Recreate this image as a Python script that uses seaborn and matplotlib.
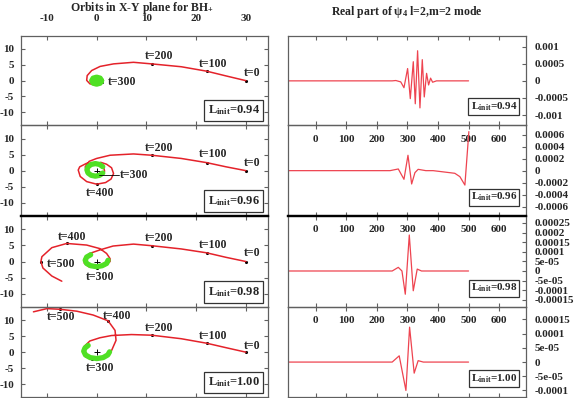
import matplotlib
matplotlib.use('Agg')
import matplotlib.pyplot as plt
import seaborn as sns

# ---------------------------------------------------------------------------
# data
# ---------------------------------------------------------------------------
L_INIT = ['0.94', '0.96', '0.98', '1.00']

# red track of BH+ in the x-y plane
red094_x = [30, 26, 22.1, 17, 11.05, 7.4, 3.4, 0.7, -1.0, -1.9, -2.0, -1.35, -0.35, 0.6, 1.0]
red094_y = [0, 1.5, 3.0, 4.4, 5.3, 5.8, 5.3, 4.5, 3.2, 1.6, 0.1, -1.0, -1.3, -0.9, -0.3]
red096_x = [30, 26, 22.1, 17, 11.05, 7.4, 2.7, 0, -1.5, -2.3, -2.0, -0.8, 0.5, 1.6, 1.4, 0.3,
            -2.0, -3.4, -3.7, -3.3, -2.0, 0, 1.8, 2.9, 3.4, 3.0, 2.0, 0.8]
red096_y = [0, 1.2, 2.5, 3.8, 4.8, 5.2, 4.8, 3.8, 2.9, 1.2, -0.8, -1.6, -1.3, -0.2, 1.2, 2.0,
            2.3, 1.2, 0.2, -1.8, -3.4, -4.2, -3.7, -2.6, -0.9, 0.9, 2.0, 2.6]
red098_x = [30, 26, 22.1, 17, 11.05, 7.4, 3.3, 0.66, -1.4, -2.4, -2.5, -1.6, 0, 1.8, 2.7, 2.7,
            2.0, 0.66, -2.0, -6.0, -9.0, -11.0, -11.2, -10.8, -9.0, -7.0]
red098_y = [0, 1.3, 2.7, 3.9, 4.9, 5.4, 4.8, 3.6, 2.5, 1.0, -0.5, -1.6, -1.9, -1.2, 0, 0.9,
            2.5, 4.0, 5.1, 5.6, 4.3, 1.5, 0, -2.0, -4.5, -6.1]
red100_x = [30, 26, 22.1, 17, 11.05, 7.0, 3.0, 0.66, -1.35, -2.5, -2.7, -2.2, -1.0, 0.5, 2.0,
            3.0, 3.9, 3.7, 2.3, -0.7, -4.0, -7.4, -10.0, -12.7]
red100_y = [0, 1.4, 2.8, 4.2, 5.3, 5.5, 5.2, 4.5, 3.5, 1.8, 0, -1.5, -2.1, -2.1, -1.3,
            0.5, 3.7, 6.8, 9.8, 11.6, 12.8, 13.4, 13.6, 12.6]

# green part of the track (whirl around the centre)
grn094_x = [1.0, 0.7, 0, -0.7, -1.0, -0.7, 0, 0.7, 1.0, 0.4, -0.3, -0.4, 0.2]
grn094_y = [0, 0.8, 1.1, 0.8, 0, -0.8, -1.1, -0.8, 0, 0.5, 0.4, -0.3, -0.2]
grn096_x = [1.23, 0.6, -0.25, -1.1, -1.72, -1.95, -1.72, -1.1, -0.25, 0.6, 1.23]
grn096_y = [1.23, 1.94, 2.2, 1.94, 1.23, 0.25, -0.73, -1.44, -1.7, -1.44, -0.73]
grn098_x = [-1.2, -2.0, -2.3, -2.0, -1.2, 0, 1.1, 2.0, 2.3]
grn098_y = [2.1, 1.4, 0.4, -0.6, -1.3, -1.6, -1.3, -0.6, 0.4]
grn100_x = [-1.7, -2.35, -2.6, -2.25, -1.3, 0, 1.3, 2.25, 2.6]
grn100_y = [2.1, 1.3, 0.3, -0.85, -1.7, -2.0, -1.7, -0.85, 0.1]

# time markers on the track
t_tags = ['t=0', 't=100', 't=200', 't=300', 't=400', 't=500']
dot094_x = [30, 22.1, 11.05, 1.0]
dot094_y = [0, 3.0, 5.3, -0.3]
dot096_x = [30, 22.1, 11.05, 0.5, 0]
dot096_y = [0, 2.5, 4.8, -1.3, -4.2]
dot098_x = [30, 22.1, 11.05, 0, -6.0, -11.2]
dot098_y = [0, 2.7, 4.9, -1.9, 5.6, 0]
dot100_x = [30, 22.1, 11.05, -1.0, 2.3, -7.4]
dot100_y = [0, 2.8, 5.3, -2.1, 9.8, 13.4]

# Re(psi4) l=2, m=2
t094 = [-100, 250, 262, 278, 288.6, 300.5, 309.3, 319.1, 325.6, 333.2, 340.9, 348.5, 355,
        362.6, 369.2, 375.7, 382.3, 395, 500]
psi094 = [0, 0, 1e-5, -3e-5, -2.0e-4, 3.6e-4, -5.2e-4, 5.6e-4, -6.7e-4, 8.8e-4, -7.9e-4,
          6.2e-4, -4.7e-4, 2.2e-4, -1.2e-4, 8e-5, -4e-5, 0, 0]
t096 = [-100, 243, 270, 288.6, 301.7, 313.7, 324.5, 335, 360, 384, 455, 471.6, 488, 501]
psi096 = [0, 0, 2.8e-5, -1.44e-4, 2.56e-4, -2.22e-4, -3.3e-5, 2.2e-5, 0, 0, -4.4e-5,
          -1.0e-4, -2.4e-4, 6.5e-4]
t098 = [-100, 250, 270, 282, 292.9, 306, 319, 332, 346, 500]
psi098 = [0, 0, 1.9e-5, 0, -1.21e-4, 1.875e-4, -1.03e-4, 1e-5, 0, 0]
t100 = [-100, 250, 273, 295, 307, 322, 335, 352, 500]
psi100 = [0, 0, 2.2e-5, -1.0e-4, 1.23e-4, -3.9e-5, 5e-6, 0, 0]

# ticks
xt_orb = [-10, 0, 10, 20, 30]
yt_orb = [10, 5, 0, -5, -10]
xt_wave = [0, 100, 200, 300, 400, 500, 600]
yt094 = [0.001, 0.0005, 0, -0.0005, -0.001]
yl094 = ['0.001', '0.0005', '0', '-0.0005', '-0.001']
yt096 = [0.0006, 0.0004, 0.0002, 0, -0.0002, -0.0004, -0.0006]
yl096 = ['0.0006', '0.0004', '0.0002', '0', '-0.0002', '-0.0004', '-0.0006']
yt098 = [0.00025, 0.0002, 0.00015, 0.0001, 5e-05, 0, -5e-05, -0.0001, -0.00015]
yl098 = ['0.00025', '0.0002', '0.00015', '0.0001', '5e-05', '0', '-5e-05', '-0.0001', '-0.00015']
yt100 = [0.00015, 0.0001, 5e-05, 0, -5e-05, -0.0001]
yl100 = ['0.00015', '0.0001', '5e-05', '0', '-5e-05', '-0.0001']

# ---------------------------------------------------------------------------
sns.set_style('ticks')
plt.rcParams['font.family'] = ['Liberation Serif', 'DejaVu Serif']
plt.rcParams['font.weight'] = 'bold'
plt.rcParams['mathtext.fontset'] = 'custom'
plt.rcParams['mathtext.rm'] = 'Liberation Serif:bold'
plt.rcParams['mathtext.it'] = 'Liberation Serif:bold:italic'
plt.rcParams['mathtext.bf'] = 'Liberation Serif:bold'
plt.rcParams['axes.unicode_minus'] = False

RED = '#e4222a'
WAVE = '#ee4450'
GREEN = '#4fe024'
FRAME = '#606060'

reds = [(red094_x, red094_y), (red096_x, red096_y), (red098_x, red098_y), (red100_x, red100_y)]
greens = [(grn094_x, grn094_y), (grn096_x, grn096_y), (grn098_x, grn098_y), (grn100_x, grn100_y)]
dots = [(dot094_x, dot094_y), (dot096_x, dot096_y), (dot098_x, dot098_y), (dot100_x, dot100_y)]
waves = [(t094, psi094), (t096, psi096), (t098, psi098), (t100, psi100)]
yticks_w = [(yt094, yl094), (yt096, yl096), (yt098, yl098), (yt100, yl100)]
ylims_w = [(-0.00129, 0.00132), (-0.00075, 0.00076), (-0.000186, 0.000288), (-0.000123, 0.000195)]

# where each time tag is written (x, y, ha)
tag_pos = [
    [(31.3, 2.4, 'center'), (23.5, 5.4, 'center'), (12.6, 7.8, 'center'), (2.3, -0.3, 'left')],
    [(31.3, 2.4, 'center'), (23.5, 5.1, 'center'), (12.6, 7.1, 'center'), (4.7, -1.3, 'left'),
     (0.6, -7.0, 'center')],
    [(31.3, 2.6, 'center'), (23.5, 5.1, 'center'), (12.6, 7.2, 'center'), (0.6, -4.9, 'center'),
     (-4.9, 7.7, 'center'), (-10.1, -0.9, 'left')],
    [(31.3, 2.0, 'center'), (23.5, 5.0, 'center'), (12.6, 7.5, 'center'), (0.6, -4.9, 'center'),
     (4.1, 11.3, 'center'), (-7.2, 10.9, 'center')],
]

fig = plt.figure(figsize=(5.76, 3.98), dpi=100)
W, H = 576.0, 398.0
edges = [35.7, 125, 215.7, 306.7, 397]

for i in range(4):
    y_top = 1 - edges[i] / H
    y_bot = 1 - edges[i + 1] / H
    axL = fig.add_axes([21 / W, y_bot, 247.3 / W, y_top - y_bot], facecolor='none')
    axR = fig.add_axes([288.3 / W, y_bot, 237.7 / W, y_top - y_bot], facecolor='none')

    # ---- orbit panel ----
    rx, ry = reds[i]
    sns.lineplot(x=rx, y=ry, sort=False, estimator=None, color=RED, lw=1.1, ax=axL)
    gx, gy = greens[i]
    sns.lineplot(x=gx, y=gy, sort=False, estimator=None, color=GREEN, lw=3.8, ax=axL,
                 solid_capstyle='round', solid_joinstyle='round')
    sns.scatterplot(x=[0], y=[0], marker='+', color='k', s=22, linewidth=0.7, ax=axL)
    dx, dy = dots[i]
    sns.scatterplot(x=dx, y=dy, color='k', s=5, linewidth=0, ax=axL)
    for k, (tx, ty, ha) in enumerate(tag_pos[i]):
        axL.text(tx, ty, t_tags[k], ha=ha, va='center', fontsize=8.5)
    if i == 1:
        axL.plot([dx[3], 4.5], [dy[3], dy[3]], color='k', lw=0.6)
    axL.set_xlim(-15.2, 34.5)
    axL.set_ylim(-14, 14.2)
    axL.set_xticks(xt_orb)
    axL.set_xticklabels([str(v) for v in xt_orb])
    axL.set_yticks(yt_orb)
    axL.set_yticklabels([str(v) for v in yt_orb])
    axL.tick_params(axis='x', top=True, bottom=True, direction='in', length=3,
                    labeltop=(i == 0), labelbottom=False, pad=9, labelsize=8, color=FRAME)
    axL.tick_params(axis='y', left=True, right=True, direction='in', length=3,
                    pad=5, labelsize=8, color=FRAME)
    axL.text(0.965, 0.085, r'L$_{\mathrm{init}}$=' + L_INIT[i], transform=axL.transAxes,
             ha='right', va='bottom', fontsize=9,
             bbox=dict(boxstyle='square,pad=0.3', fc='white', ec='#333333', lw=0.9))

    # ---- waveform panel ----
    tw, pw = waves[i]
    sns.lineplot(x=tw, y=pw, sort=False, estimator=None, color=WAVE, lw=0.9, ax=axR)
    axR.set_xlim(-90, 688)
    axR.set_ylim(*ylims_w[i])
    axR.set_xticks(xt_wave)
    axR.set_xticklabels([str(v) for v in xt_wave])
    yt, yl = yticks_w[i]
    axR.yaxis.tick_right()
    axR.set_yticks(yt)
    axR.set_yticklabels(yl)
    axR.tick_params(axis='x', top=True, bottom=True, direction='in', length=3,
                    labelbottom=(i < 3), labeltop=False, pad=7, labelsize=8, color=FRAME)
    axR.tick_params(axis='y', left=False, right=True, direction='in', length=3,
                    pad=6.5, labelsize=8, color=FRAME)
    axR.text(0.963, 0.135, r'L$_{\mathrm{init}}$=' + L_INIT[i], transform=axR.transAxes,
             ha='right', va='bottom', fontsize=8,
             bbox=dict(boxstyle='square,pad=0.2', fc='white', ec='#333333', lw=0.9))

    for ax in (axL, axR):
        ax.set_xlabel('')
        ax.set_ylabel('')
        for sp in ax.spines.values():
            sp.set_color(FRAME)
            sp.set_linewidth(0.9)
        if i == 1:
            ax.spines['bottom'].set_color('black')
            ax.spines['bottom'].set_linewidth(1.6)
        if i == 2:
            ax.spines['top'].set_color('black')
            ax.spines['top'].set_linewidth(1.6)

fig.text(142 / W, 1 - 7.5 / H, 'Orbits in X-Y plane for BH$_{+}$', ha='center', va='center',
         fontsize=8.5)
fig.text(407 / W, 1 - 12.5 / H, 'Real part of ψ$_{4}$ l=2,m=2 mode', ha='center',
         va='center', fontsize=8.5)

fig.savefig('out.png', dpi=100)
